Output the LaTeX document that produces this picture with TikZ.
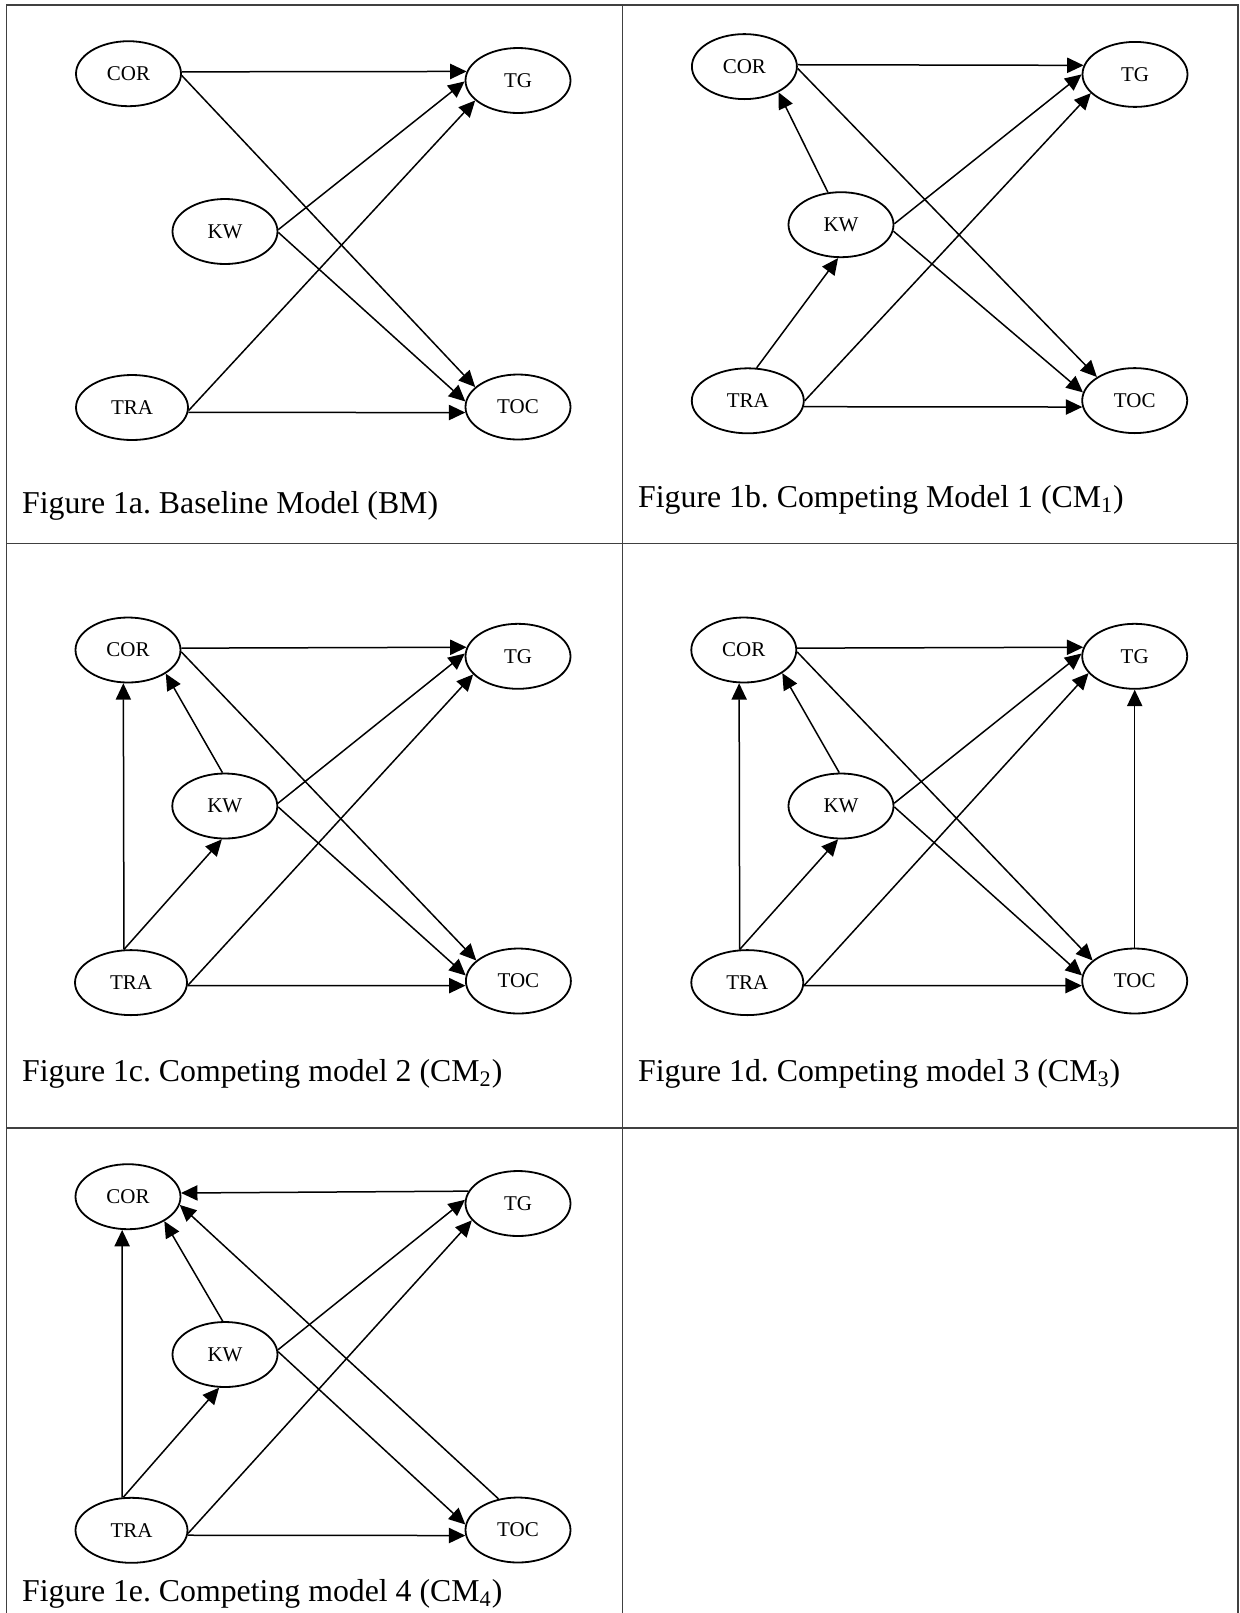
\documentclass[tikz,border=0pt]{standalone}
\usepackage{fontspec}
\setmainfont{Liberation Serif}
\usetikzlibrary{shapes.geometric,arrows.meta}
\frenchspacing
\newcommand{\myNodeFont}{\fontsize{10.5}{12}\selectfont}
\newcommand{\myCapFont}{\fontsize{15.9}{18}\selectfont}
\tikzset{
  var/.style={draw, ellipse, line width=0.9pt, minimum width=52.5pt, minimum height=32.5pt, inner sep=0pt, font=\myNodeFont},
  widevar/.style={var, minimum width=56pt},
  conn/.style={line width=0.75pt, -{Triangle[length=8.2pt,width=7.6pt]}},
  gridline/.style={line width=0.7pt, draw=black!75},
  figcap/.style={anchor=base west, inner sep=0pt, font=\myCapFont}
}
\begin{document}
\begin{tikzpicture}[x=0.5pt,y=-0.5pt]
\useasboundingbox (0,0) rectangle (1239,1613);
% table lines
\draw[gridline] (6.7,1613) -- (6.7,5) -- (1237.8,5) -- (1237.8,1613);
\draw[gridline] (622.5,5) -- (622.5,1613);
\draw[gridline] (6.7,543.5) -- (1237.8,543.5);
\draw[gridline] (6.7,1128) -- (1237.8,1128);

% ---------- Panel a ----------
\node[var] (aCOR) at (128.5,73.7) {COR};
\node[var] (aTG) at (518,80.5) {TG};
\node[var] (aKW) at (225,231.5) {KW};
\node[widevar] (aTRA) at (132,407.5) {TRA};
\node[var] (aTOC) at (518,407) {TOC};
\draw[conn] (aCOR.2) -- (aTG.170);
\draw[conn] (aCOR.-2) -- (aTOC.155);
\draw[conn] (aKW.2) -- (aTG.181);
\draw[conn] (aKW.-1) -- (aTOC.174);
\draw[conn] (aTRA.-3) -- (aTG.205);
\draw[conn] (aTRA.-5.6) -- (aTOC.186.6);
\node[figcap] (capA) at (21.7,513) {Figure 1a. Baseline Model (BM)};

% ---------- Panel b ----------
\node[var] (bCOR) at (744.4,66.6) {COR};
\node[var] (bTG) at (1135,74.4) {TG};
\node[var] (bKW) at (841,224.7) {KW};
\node[widevar] (bTRA) at (747.8,400.8) {TRA};
\node[var] (bTOC) at (1134.7,400.6) {TOC};
\draw[conn] (bCOR.2) -- (bTG.170);
\draw[conn] (bCOR.-2) -- (bTOC.148);
\draw[conn] (bKW.112) -- (bCOR.-37);
\draw[conn] (bKW.1) -- (bTG.180);
\draw[conn] (bKW.-7) -- (bTOC.171);
\draw[conn] (bTRA.75) -- (bKW.-95);
\draw[conn] (bTRA.0) -- (bTG.203);
\draw[conn] (bTRA.-6.3) -- (bTOC.187);
\node[figcap] (capB) at (637.8,507) {Figure 1b. Competing Model 1 (CM\textsubscript{1})};

% ---------- Panel c ----------
\node[var] (cCOR) at (128,650) {COR};
\node[var] (cTG) at (518,656.3) {TG};
\node[var] (cKW) at (224.8,806) {KW};
\node[widevar] (cTRA) at (131,982.6) {TRA};
\node[var] (cTOC) at (518.4,981) {TOC};
\draw[conn] (cCOR.2) -- (cTG.170);
\draw[conn] (cCOR.-2) -- (cTOC.154);
\draw[conn] (cKW.94) -- (cCOR.-32);
\draw[conn] (cKW.3) -- (cTG.177.5);
\draw[conn] (cKW.-1) -- (cTOC.174);
\draw[conn] (cTRA.102.6) -- (cCOR.262.6);
\draw[conn] (cTRA.102.6) -- (cKW.-95);
\draw[conn] (cTRA.-3.5) -- (cTG.202);
\draw[conn] (cTRA.-3.5) -- (cTOC.185.5);
\node[figcap] (capC) at (21.7,1081) {Figure 1c. Competing model 2 (CM\textsubscript{2})};

% ---------- Panel d ----------
\node[var] (dCOR) at (743.8,650) {COR};
\node[var] (dTG) at (1134.7,656.3) {TG};
\node[var] (dKW) at (841,806) {KW};
\node[widevar] (dTRA) at (747.3,982.6) {TRA};
\node[var] (dTOC) at (1134.7,981) {TOC};
\draw[conn] (dCOR.2) -- (dTG.170);
\draw[conn] (dCOR.-2) -- (dTOC.154);
\draw[conn] (dKW.93) -- (dCOR.-31);
\draw[conn] (dKW.3) -- (dTG.177.5);
\draw[conn] (dKW.-1) -- (dTOC.174);
\draw[conn] (dTRA.103) -- (dCOR.262.6);
\draw[conn] (dTRA.103) -- (dKW.-95);
\draw[conn] (dTRA.-3.5) -- (dTG.200);
\draw[conn] (dTRA.-3.5) -- (dTOC.185.5);
\draw[conn] (dTOC.90) -- (dTG.270);
\node[figcap] (capD) at (637.8,1081) {Figure 1d. Competing model 3 (CM\textsubscript{3})};

% ---------- Panel e ----------
\node[var] (eCOR) at (128,1196.7) {COR};
\node[var] (eTG) at (518,1203.5) {TG};
\node[var] (eKW) at (225,1354.5) {KW};
\node[widevar] (eTRA) at (131.5,1530.3) {TRA};
\node[var] (eTOC) at (518,1530) {TOC};
\draw[conn] (eTG.166.8) -- (eCOR.4.8);
\draw[conn] (eTOC.122) -- (eCOR.-9);
\draw[conn] (eKW.94) -- (eCOR.-34);
\draw[conn] (eTRA.106.3) -- (eCOR.-100);
\draw[conn] (eTRA.104) -- (eKW.-100);
\draw[conn] (eKW.5) -- (eTG.176);
\draw[conn] (eKW.3) -- (eTOC.174);
\draw[conn] (eTRA.-3) -- (eTG.200);
\draw[conn] (eTRA.-5.7) -- (eTOC.186.6);
\node[figcap] (capE) at (21.7,1601.7) {Figure 1e. Competing model 4 (CM\textsubscript{4})};
\end{tikzpicture}
\end{document}
